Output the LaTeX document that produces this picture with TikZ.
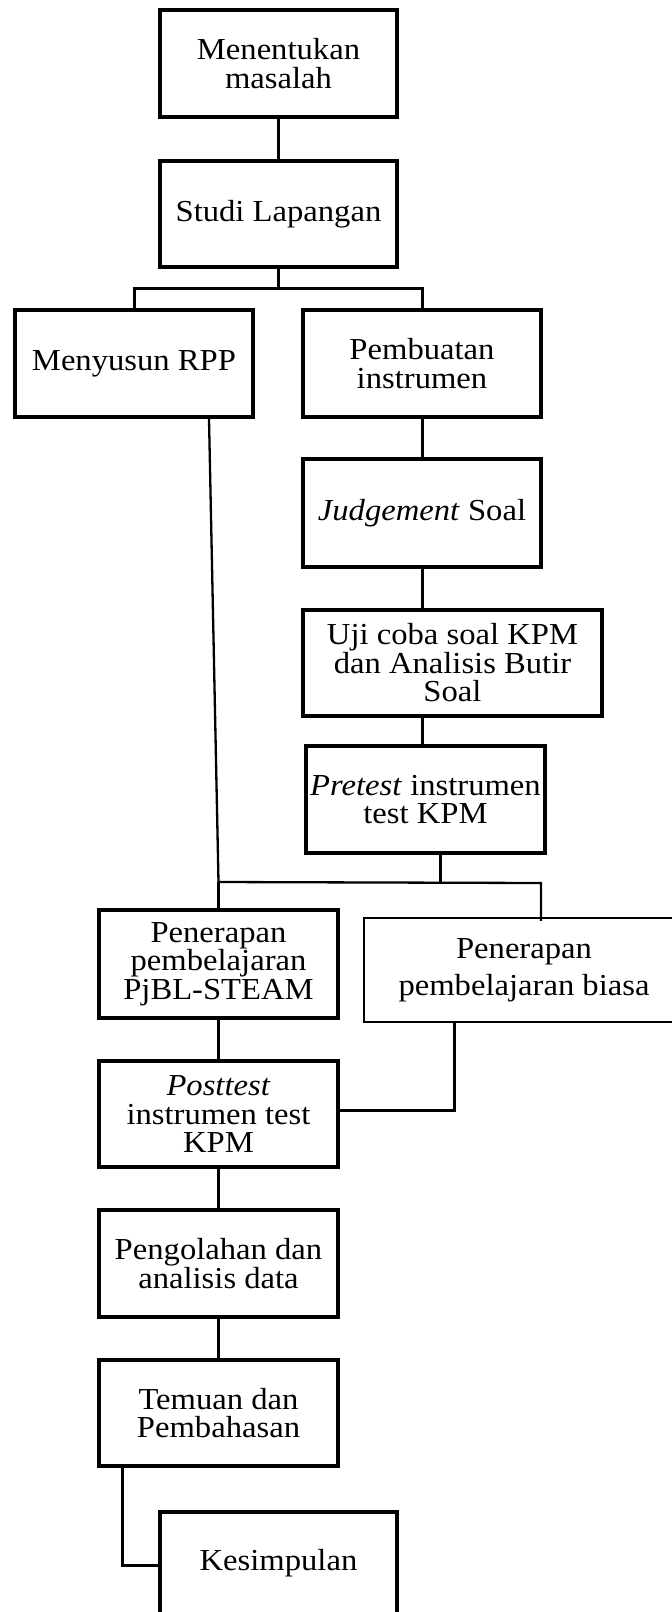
\documentclass[tikz,border=0pt]{standalone}
\usepackage{fontspec}
\setmainfont{Liberation Serif}[FakeStretch=1.07]
\begin{document}
\begin{tikzpicture}[x=1pt,y=-1pt,
  box/.style={draw, line width=3.6pt, inner sep=0pt, align=center,
    font=\fontsize{30.5}{28.5}\selectfont},
  thinbox/.style={box, line width=2.4pt, font=\fontsize{30.5}{37}\selectfont},
  conn/.style={line width=3pt},
  thinconn/.style={line width=2.3pt}]
\useasboundingbox (0,0) rectangle (672,1612);
\clip (0,0) rectangle (672,1612);
% boxes
\node[box, minimum width=237pt, minimum height=107pt] (m1) at (278.5,63.5) {Menentukan\\masalah};
\node[box, minimum width=237pt, minimum height=106pt] (m2) at (278.5,214) {Studi Lapangan};
\node[box, minimum width=238pt, minimum height=107pt] (rpp) at (134,363.5) {Menyusun RPP};
\node[box, minimum width=238pt, minimum height=107pt] (ins) at (422,363.5) {Pembuatan\\instrumen};
\node[box, minimum width=238pt, minimum height=108pt] (jud) at (422,513) {\textit{Judgement} Soal};
\node[box, minimum width=299pt, minimum height=106pt] (uji) at (452.5,663) {Uji coba soal KPM\\dan Analisis Butir\\Soal};
\node[box, minimum width=239pt, minimum height=107pt] (pre) at (425.5,799.5) {\textit{Pretest} instrumen\\test KPM};
\node[box, minimum width=239pt, minimum height=108pt] (pjbl) at (218.5,964) {Penerapan\\pembelajaran\\PjBL-STEAM};
\node[thinbox, minimum width=320pt, minimum height=104pt] (bia) at (524,970) {Penerapan\\pembelajaran biasa};
\node[box, minimum width=239pt, minimum height=106pt] (post) at (218.5,1114) {\textit{Posttest}\\instrumen test\\KPM};
\node[box, minimum width=239pt, minimum height=107pt] (olah) at (218.5,1263.5) {Pengolahan dan\\analisis data};
\node[box, minimum width=239pt, minimum height=106pt] (temu) at (218.5,1413) {Temuan dan\\Pembahasan};
\node[box, minimum width=237pt, minimum height=103pt] (kes) at (278.5,1563.5) {Kesimpulan};
% junction points
\coordinate (b1) at (278.5,288);
\coordinate (j1) at (218.5,882);
\coordinate (j2) at (541,883);
% connectors
\draw[conn] (m1) -- (m2);
\draw[conn] (m2.south) -- (b1);
\draw[conn] (rpp.north) |- (b1) -| (ins.north);
\draw[conn] (ins) -- (jud);
\draw[conn] (jud) -- (uji.north -| jud.south);
\draw[conn] (uji.south -| jud.south) -- (pre.north -| jud.south);
\draw[thinconn] ([xshift=75pt]rpp.south) -- (j1);
\draw[conn] (j1) -- (pjbl.north);
\draw[conn] ([xshift=14.5pt]pre.south) -- ([xshift=14.5pt]pre.south |- j1);
\draw[thinconn] (j1) -- (j2) -- ([yshift=-4pt]j2 |- bia.north);
\draw[conn] (pjbl) -- (post);
\draw[conn] ([xshift=-70pt]bia.south) |- (post.east |- 0,1110);
\draw[conn] (post) -- (olah);
\draw[conn] (olah) -- (temu);
\draw[conn] ([xshift=-96.5pt]temu.south) |- (kes.west |- 0,1565);
\end{tikzpicture}
\end{document}
